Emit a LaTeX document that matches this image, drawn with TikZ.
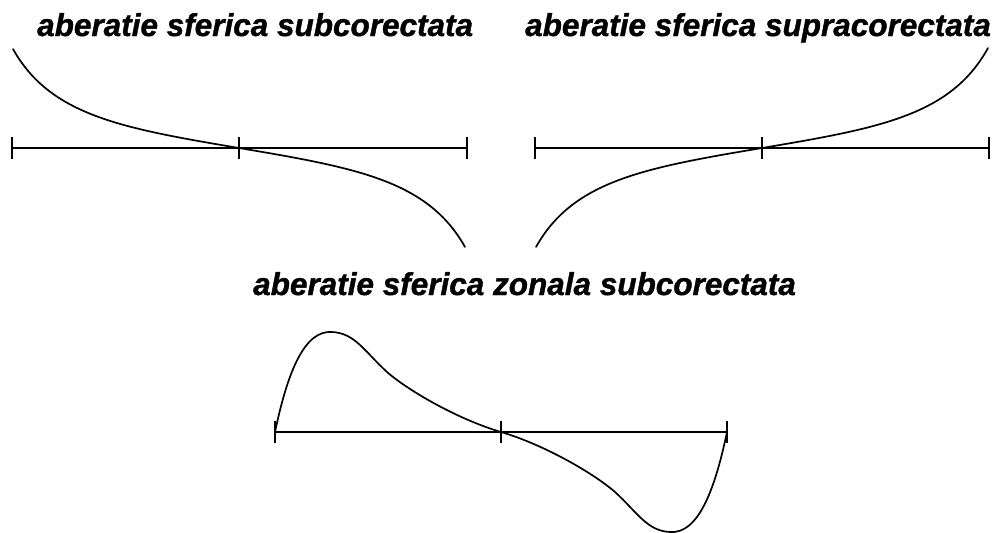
\documentclass[tikz,border=0pt]{standalone}
\usepackage{fontspec}
\newfontfamily\arialfont[FakeBold=1.2]{Liberation Sans}
\usetikzlibrary{calc}
\tikzset{
    title/.style={anchor=base west, inner sep=0pt, font=\arialfont\fontsize{31.5}{36}\selectfont\bfseries\itshape},
    axisline/.style={line width=1.3pt, black},
    marker/.style={line width=1.6pt, black},
    aberr/.style={line width=1.7pt, black, line cap=round}
}

\begin{document}
\begin{tikzpicture}[x=1pt, y=-1pt]
    \useasboundingbox (0,0) rectangle (997,533);

    % titluri
    \node [title] (t1) at (37,36) {aberatie sferica subcorectata};
    \node [title] (t2) at (525,36) {aberatie sferica supracorectata};
    \node [title] (t3) at (253,295) {aberatie sferica zonala subcorectata};

    % axe
    \coordinate (l1) at (12,148);  \coordinate (c1) at (239,148); \coordinate (r1) at (467,148);
    \coordinate (l2) at (535,148); \coordinate (c2) at (762,148); \coordinate (r2) at (989,148);
    \coordinate (l3) at (275,432); \coordinate (c3) at (501,432); \coordinate (r3) at (727,432);

    \draw [axisline] (l1) -- (r1);
    \draw [axisline] (l2) -- (r2);
    \draw [axisline] (l3) -- (r3);
    \foreach \p in {l1,c1,r1,l2,c2,r2,l3,c3,r3}
        \draw [marker] (\p) ++(0,-11) -- ++(0,22);

    % curbe
    \draw [aberr] (13,49) .. controls (50,115) and (120,128) .. (c1)
        .. controls (358,168) and (428,181) .. (465,247);
    \draw [aberr] (536,247) .. controls (573,181) and (643,168) .. (c2)
        .. controls (881,128) and (951,115) .. (988,48);
    \draw [aberr] (l3) .. controls (288,370) and (305,330) .. (332,332)
        .. controls (355,333) and (365,352) .. (387,372)
        .. controls (410,392) and (460,420) .. (c3)
        .. controls (542,444) and (592,472) .. (615,492)
        .. controls (637,512) and (647,531) .. (670,532)
        .. controls (697,534) and (714,494) .. (r3);
\end{tikzpicture}
\end{document}
